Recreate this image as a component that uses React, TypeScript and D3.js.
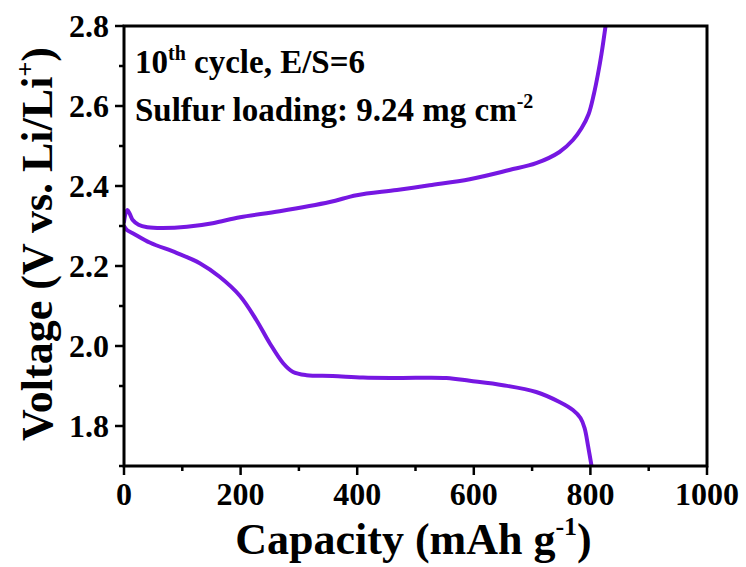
import React from "react";
import * as d3 from "d3";

// Charge branch: capacity (mAh g-1) and voltage (V)
const chargeCapacity = [0, 3, 6, 10, 15, 25, 40, 65, 108, 152, 199, 267, 353, 399, 468, 524, 593, 661, 707, 747, 770, 785, 797, 806, 813, 819, 826];
const chargeVoltage = [2.31, 2.333, 2.34, 2.33, 2.315, 2.303, 2.297, 2.295, 2.298, 2.307, 2.322, 2.337, 2.36, 2.377, 2.39, 2.402, 2.417, 2.44, 2.457, 2.485, 2.515, 2.545, 2.58, 2.63, 2.68, 2.73, 2.8];

// Discharge branch
const dischargeCapacity = [0, 5, 15, 45, 90, 130, 164, 199, 227, 250, 273, 290, 313, 358, 410, 470, 553, 593, 650, 707, 747, 770, 783, 790, 796, 802];
const dischargeVoltage = [2.3, 2.29, 2.282, 2.258, 2.233, 2.207, 2.173, 2.125, 2.065, 2.007, 1.957, 1.935, 1.927, 1.925, 1.921, 1.92, 1.92, 1.913, 1.902, 1.885, 1.86, 1.84, 1.82, 1.795, 1.75, 1.7];

const xMajorTicks = [0, 200, 400, 600, 800, 1000];
const xMinorTicks = [100, 300, 500, 700, 900];
const yMajorTicks = [1.8, 2.0, 2.2, 2.4, 2.6, 2.8];
const yMinorTicks = [1.7, 1.9, 2.1, 2.3, 2.5, 2.7];

const W = 746;
const H = 567;
const left = 124;
const right = 707;
const top = 26;
const bottom = 466;

const LINE_COLOR = "#7617e2";
const FONT = "'Liberation Serif', 'Times New Roman', serif";

export default function App() {
  const x = d3.scaleLinear().domain([0, 1000]).range([left, right]);
  const y = d3.scaleLinear().domain([1.7, 2.8]).range([bottom, top]);

  const line = d3
    .line<[number, number]>()
    .x((d) => x(d[0]))
    .y((d) => y(d[1]))
    .curve(d3.curveCatmullRom.alpha(0.5));

  const charge = chargeCapacity.map((c, i) => [c, chargeVoltage[i]] as [number, number]);
  const discharge = dischargeCapacity.map((c, i) => [c, dischargeVoltage[i]] as [number, number]);

  return (
    <svg
      width={W}
      height={H}
      style={{ position: "absolute", left: 0, top: 0, background: "#fff" }}
      fontFamily={FONT}
      fontWeight="bold"
    >
      <defs>
        <clipPath id="plot-clip">
          <rect x={left} y={top} width={right - left} height={bottom - top} />
        </clipPath>
      </defs>

      <g clipPath="url(#plot-clip)" fill="none" stroke={LINE_COLOR} strokeWidth={4} strokeLinejoin="round" strokeLinecap="round">
        <path d={line(discharge) ?? ""} />
        <path d={line(charge) ?? ""} />
      </g>

      {/* frame */}
      <rect x={left} y={top} width={right - left} height={bottom - top} fill="none" stroke="#000" strokeWidth={3} />

      {/* ticks */}
      <g stroke="#000" strokeWidth={2.5}>
        {xMajorTicks.map((t) => (
          <line key={"xM" + t} x1={x(t)} x2={x(t)} y1={bottom} y2={bottom + 9} />
        ))}
        {xMinorTicks.map((t) => (
          <line key={"xm" + t} x1={x(t)} x2={x(t)} y1={bottom} y2={bottom + 5} />
        ))}
        {yMajorTicks.map((t) => (
          <line key={"yM" + t} x1={left - 9} x2={left} y1={y(t)} y2={y(t)} />
        ))}
        {yMinorTicks.map((t) => (
          <line key={"ym" + t} x1={left - 5} x2={left} y1={y(t)} y2={y(t)} />
        ))}
      </g>

      <g fontSize={32} fill="#000">
        {xMajorTicks.map((t) => (
          <text key={"xl" + t} x={x(t)} y={505} textAnchor="middle">
            {t}
          </text>
        ))}
        {yMajorTicks.map((t) => (
          <text key={"yl" + t} x={left - 15} y={y(t)} dy="0.35em" textAnchor="end">
            {t.toFixed(1)}
          </text>
        ))}
      </g>

      {/* axis titles */}
      <text x={(left + right) / 2 - 2} y={554} textAnchor="middle" fontSize={44} fill="#000">
        Capacity (mAh g
        <tspan fontSize={26} dy={-19}>-1</tspan>
        <tspan dy={19}>)</tspan>
      </text>
      <text transform={`translate(52, ${(top + bottom) / 2 - 2}) rotate(-90)`} textAnchor="middle" fontSize={44} fill="#000">
        Voltage (V vs. Li/Li
        <tspan fontSize={26} dy={-18}>+</tspan>
        <tspan dy={18}>)</tspan>
      </text>

      {/* annotations */}
      <text x={135} y={73} fontSize={33} fill="#000">
        10
        <tspan fontSize={20} dy={-13}>th</tspan>
        <tspan dy={13}> cycle, E/S=6</tspan>
      </text>
      <text x={135} y={121} fontSize={33} fill="#000">
        Sulfur loading: 9.24 mg cm
        <tspan fontSize={20} dy={-13}>-2</tspan>
      </text>
    </svg>
  );
}
